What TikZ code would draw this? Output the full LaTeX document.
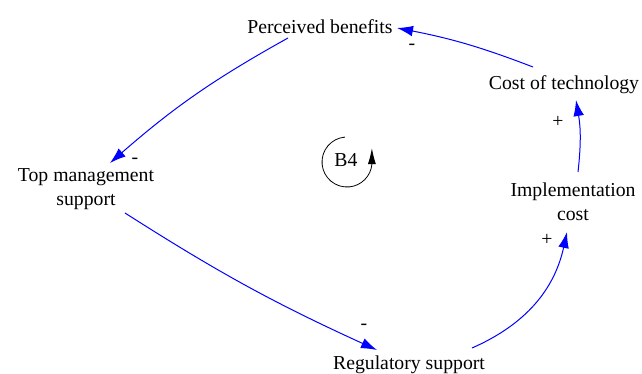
\documentclass[tikz,border=0pt]{standalone}
\usepackage{fontspec}
\setmainfont{Liberation Serif}
\usepackage{tikz}
\usetikzlibrary{arrows.meta}

\begin{document}
\begin{tikzpicture}[x=0.75pt,y=-0.75pt,
    font=\fontsize{14.8}{18}\selectfont,
    var/.style={inner sep=0pt, align=center},
    link/.style={blue, line width=0.75pt, -{Latex[length=12pt,width=8pt]}},
    sign/.style={inner sep=0pt},
    loopmark/.style={black, line width=0.6pt, -{Latex[length=12pt,width=6pt]}}]
                    \useasboundingbox (0,0) rectangle (642,374);

                    \node[var] (pb) at (320,26.5) {Perceived benefits};
                    \node[var] (ct) at (564,84.5) {Cost of technology};
                    \node[var] (ic) at (573,202) {Implementation\\cost};
                    \node[var] (rs) at (409,365) {Regulatory support};
                    \node[var] (tm) at (86,189.5) {Top management\\support};
                    \node[var] (b4) at (346,160.5) {B4};

                    \foreach \a/\sa/\b/\sb/\bend in {ct/{(-31,-17.5)}/pb/{(77,1.5)}/5,
                                                    pb/{(-32,11.5)}/tm/{(24,-26.5)}/6,
                                                    tm/{(39,23.5)}/rs/{(-32,-15)}/4,
                                                    rs/{(63,-17)}/ic/{(-6,30)}/27,
                                                    ic/{(5,-30)}/ct/{(12,15.5)}/8}
                        \draw[link] ([shift={\sa}]\a.center) to[bend right=\bend] ([shift={\sb}]\b.center);

                    \foreach \x/\y/\s [count=\i] in {412/47/-, 135/161/-, 364/327/-, 547/240/+, 558/122/+}
                        \node[sign] (s\i) at (\x,\y) {\s};

                    \coordinate (lc) at ([shift={(1,1.5)}]b4.center);
                    \draw[loopmark] ([shift={(95:18.75pt)}]lc) arc[start angle=95, end angle=355, radius=18.75pt] -- ++(0pt,12pt);
                        \end{tikzpicture}
\end{document}
